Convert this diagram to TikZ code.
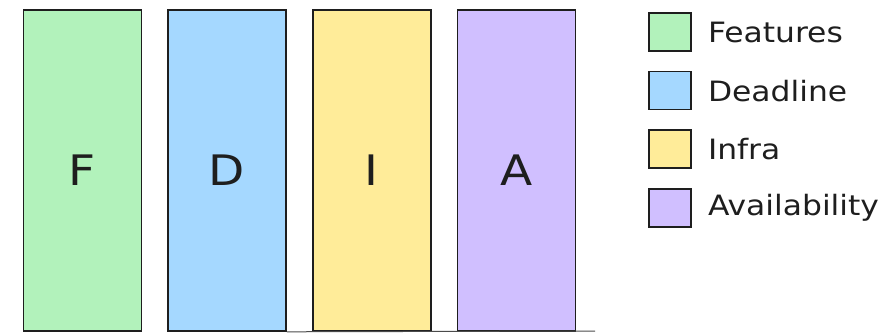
\documentclass[tikz,border=0pt]{standalone}
\usepackage{fontspec}
\setmainfont{DejaVu Sans}
\newfontfamily\handfont[FakeStretch=1.12]{DejaVu Sans}
\usetikzlibrary{positioning}
\definecolor{featfill}{HTML}{b2f2bb}
\definecolor{deadfill}{HTML}{a5d8ff}
\definecolor{infrafill}{HTML}{ffec99}
\definecolor{availfill}{HTML}{d0bfff}
\definecolor{inkstroke}{HTML}{1e1e1e}

\begin{document}
\begin{tikzpicture}[
  x=1pt, y=1pt,
  node distance=25pt,
  bar/.style={rectangle, draw=inkstroke, line width=1.6pt,
              minimum width=118pt, minimum height=321pt,
              inner sep=0pt, text=inkstroke,
              font=\handfont\fontsize{42}{48}\selectfont},
  key/.style={rectangle, draw=inkstroke, line width=1.6pt,
              minimum width=42pt, minimum height=38pt, inner sep=0pt},
  keylab/.style={inner sep=0pt, text=inkstroke,
                 font=\handfont\fontsize{28}{34}\selectfont},
  baseline/.style={draw=inkstroke!80, line width=1pt}
]
\useasboundingbox (0,0) rectangle (891,332);

% Bars (left to right).
\node[bar, fill=featfill]                    (F) at (82.5,161.5) {F};
\node[bar, fill=deadfill,  right=of F]       (D) {D};
\node[bar, fill=infrafill, right=of D]       (I) {I};
\node[bar, fill=availfill, right=of I]       (A) {A};

% Floor line under the right-hand bars.
\coordinate (baseend) at (595,1);
\draw[baseline] (D.south east) -- (baseend);

% Legend.
\node[key, fill=featfill]                    (kF) at (670,300) {};
\node[key, fill=deadfill,  below=19pt of kF] (kD) {};
\node[key, fill=infrafill, below=19pt of kD] (kI) {};
\node[key, fill=availfill, below=19pt of kI] (kA) {};

\node[keylab, right=16pt of kF] (lF) {Features};
\node[keylab, right=16pt of kD] (lD) {Deadline};
\node[keylab, right=16pt of kI] (lI) {Infra};
\node[keylab, right=16pt of kA] (lA) {Availability};

\end{tikzpicture}
\end{document}
